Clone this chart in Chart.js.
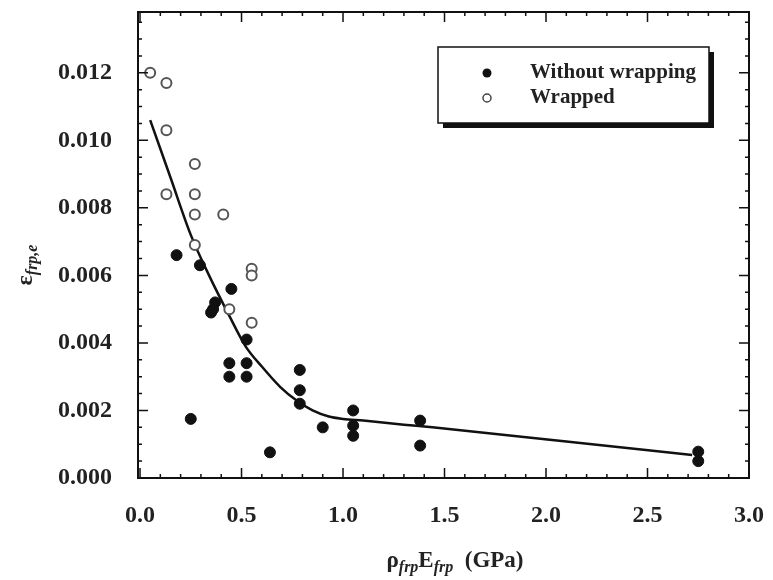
<!DOCTYPE html>
<html>
<head>
<meta charset="utf-8">
<script src="https://cdn.jsdelivr.net/npm/chart.js@4.4.0/dist/chart.umd.min.js"></script>
<style>
  html, body { margin: 0; padding: 0; background: #fff; }
  #wrap { width: 773px; height: 580px; }
</style>
</head>
<body>
<div id="wrap"><canvas id="strainChart"></canvas></div>
<script>
// specimens without wrapping (filled dots)
const plainX = [0.18, 0.295, 0.37, 0.36, 0.35, 0.45, 0.525, 0.44, 0.525, 0.44, 0.525, 0.25,
                0.64, 0.787, 0.787, 0.787, 0.90, 1.05, 1.05, 1.05, 1.38, 1.38, 2.75, 2.75];
const plainY = [0.0066, 0.0063, 0.0052, 0.0050, 0.0049, 0.0056, 0.0041, 0.0034, 0.0034, 0.0030, 0.0030, 0.00175,
                0.00076, 0.0032, 0.0026, 0.0022, 0.0015, 0.0020, 0.00155, 0.00125, 0.0017, 0.00096, 0.00078, 0.00050];

// wrapped specimens (open circles)
const wrapX = [0.05, 0.13, 0.13, 0.27, 0.13, 0.27, 0.27, 0.41, 0.27, 0.55, 0.55, 0.44, 0.55];
const wrapY = [0.0120, 0.0117, 0.0103, 0.0093, 0.0084, 0.0084, 0.0078, 0.0078, 0.0069, 0.0062, 0.0060, 0.0050, 0.0046];

// fitted curve
const fitX = [0.05, 0.15, 0.25, 0.34, 0.44, 0.52, 0.60, 0.69, 0.77, 0.85, 0.93, 1.0, 1.1, 1.3, 1.44, 2.1, 2.72];
const fitY = [0.0106, 0.0089, 0.0072, 0.0060, 0.0048, 0.0039, 0.0033, 0.0027, 0.0023, 0.0020, 0.00182, 0.00175,
              0.0017, 0.00158, 0.0015, 0.00108, 0.00068];

const xTicks = [0, 0.5, 1.0, 1.5, 2.0, 2.5, 3.0];
const yTicks = [0, 0.002, 0.004, 0.006, 0.008, 0.010, 0.012];

const legendLabels = ['Without wrapping', 'Wrapped'];

const toPts = (xs, ys) => xs.map((x, i) => ({ x: x, y: ys[i] }));
const serif = '"Liberation Serif", "Times New Roman", serif';

// draw text pieces with subscripts
function richText(ctx, parts, x, y, align) {
  let total = 0;
  parts.forEach(p => { ctx.font = p.font; total += ctx.measureText(p.t).width; });
  let cx = align === 'center' ? x - total / 2 : x;
  parts.forEach(p => {
    ctx.font = p.font;
    ctx.fillText(p.t, cx, y + (p.dy || 0));
    cx += ctx.measureText(p.t).width;
  });
}

const framePlugin = {
  id: 'frame',
  afterDraw(chart) {
    const ctx = chart.ctx;
    const a = chart.chartArea;
    const xs = chart.scales.x, ys = chart.scales.y;
    ctx.save();
    ctx.strokeStyle = '#111';
    ctx.lineWidth = 2;
    ctx.strokeRect(a.left, a.top, a.right - a.left, a.bottom - a.top);

    // inward ticks, all four sides
    ctx.lineWidth = 1.5;
    ctx.beginPath();
    for (let i = 0; i <= 30; i++) {
      const v = i / 10;
      const px = xs.getPixelForValue(v);
      const len = i % 5 === 0 ? 10 : 4;
      ctx.moveTo(px, a.bottom); ctx.lineTo(px, a.bottom - len);
      ctx.moveTo(px, a.top); ctx.lineTo(px, a.top + len);
    }
    for (let i = 0; i <= 27; i++) {
      const v = i * 0.0005;
      const py = ys.getPixelForValue(v);
      const len = i % 4 === 0 ? 10 : 4;
      ctx.moveTo(a.left, py); ctx.lineTo(a.left + len, py);
      ctx.moveTo(a.right, py); ctx.lineTo(a.right - len, py);
    }
    ctx.stroke();

    // legend box with drop shadow
    const bx = 438, by = 47, bw = 271, bh = 76;
    ctx.fillStyle = '#111';
    ctx.fillRect(bx + 5, by + 5, bw, bh);
    ctx.fillStyle = '#fff';
    ctx.fillRect(bx, by, bw, bh);
    ctx.lineWidth = 1.5;
    ctx.strokeRect(bx, by, bw, bh);

    ctx.fillStyle = '#111';
    ctx.beginPath();
    ctx.arc(487, 73, 4.5, 0, Math.PI * 2);
    ctx.fill();
    ctx.beginPath();
    ctx.lineWidth = 1.5;
    ctx.strokeStyle = '#444';
    ctx.arc(487, 98, 4, 0, Math.PI * 2);
    ctx.stroke();

    ctx.fillStyle = '#222';
    ctx.textBaseline = 'middle';
    ctx.textAlign = 'left';
    ctx.font = 'bold 21px ' + serif;
    ctx.fillText(legendLabels[0], 530, 73);
    ctx.fillText(legendLabels[1], 530, 98);

    // axis titles
    const big = 'bold 23px ' + serif;
    const sub = 'bold italic 16px ' + serif;
    ctx.textBaseline = 'alphabetic';
    richText(ctx, [
      { t: '\u03c1', font: big },
      { t: 'frp', font: sub, dy: 5 },
      { t: 'E', font: big },
      { t: 'frp', font: sub, dy: 5 },
      { t: '  (GPa)', font: big }
    ], 455, 567, 'center');

    ctx.translate(32, 265);
    ctx.rotate(-Math.PI / 2);
    richText(ctx, [
      { t: '\u03b5', font: 'bold 24px ' + serif },
      { t: 'frp,e', font: sub, dy: 5 }
    ], 0, 0, 'center');
    ctx.restore();
  }
};

const tickFont = { family: serif, size: 24, weight: 'bold' };

new Chart(document.getElementById('strainChart'), {
  type: 'scatter',
  data: {
    datasets: [{
      label: legendLabels[0],
      data: toPts(plainX, plainY),
      backgroundColor: '#111',
      borderColor: '#111',
      pointRadius: 5.5,
      pointHoverRadius: 5.5
    }, {
      label: legendLabels[1],
      data: toPts(wrapX, wrapY),
      backgroundColor: '#fff',
      borderColor: '#555',
      borderWidth: 2,
      pointRadius: 5,
      pointHoverRadius: 5
    }, {
      label: 'fit',
      type: 'line',
      data: toPts(fitX, fitY),
      borderColor: '#111',
      borderWidth: 2.5,
      pointRadius: 0,
      cubicInterpolationMode: 'monotone',
      fill: false
    }]
  },
  options: {
    responsive: true,
    maintainAspectRatio: false,
    animation: false,
    layout: { padding: { left: 0, top: 12, right: 24, bottom: 0 } },
    plugins: {
      legend: { display: false },
      tooltip: { enabled: false }
    },
    scales: {
      x: {
        type: 'linear',
        min: -0.01,
        max: 3.0,
        grid: { display: false },
        border: { display: false },
        afterBuildTicks: s => { s.ticks = xTicks.map(v => ({ value: v })); },
        afterFit: s => { s.height = 102; s.paddingLeft = 0; s.paddingRight = 0; },
        ticks: {
          color: '#222',
          font: tickFont,
          padding: 15,
          maxRotation: 0,
          callback: v => v.toFixed(1)
        }
      },
      y: {
        type: 'linear',
        min: 0,
        max: 0.0138,
        grid: { display: false },
        border: { display: false },
        afterBuildTicks: s => { s.ticks = yTicks.map(v => ({ value: v })); },
        afterFit: s => { s.width = 138; s.paddingTop = 0; s.paddingBottom = 0; },
        ticks: {
          color: '#222',
          font: tickFont,
          padding: 18,
          callback: v => v.toFixed(3)
        }
      }
    }
  },
  plugins: [framePlugin]
});
</script>
</body>
</html>
